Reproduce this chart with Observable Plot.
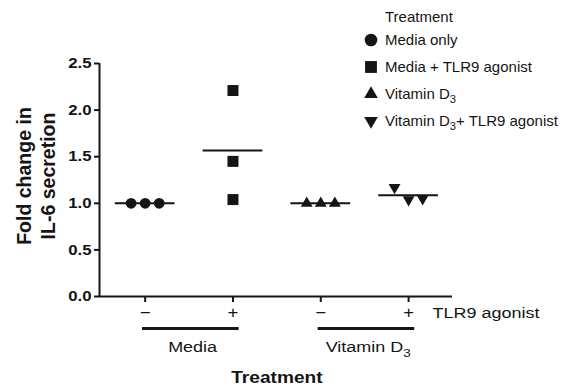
<!DOCTYPE html>
<html><head><meta charset="utf-8">
<script src="https://cdn.jsdelivr.net/npm/d3@7"></script>
<script src="https://cdn.jsdelivr.net/npm/@observablehq/plot@0.6"></script>
<style>
body{margin:0;background:#fff}
#wrap{position:relative;width:564px;height:385px;background:#fff}
</style>
</head><body><div id="wrap"></div>
<script>
// ---- data ----
const seriesNames = ["Media only", "Media + TLR9 agonist", "Vitamin D_3", "Vitamin D_3+ TLR9 agonist"];
const seriesSymbols = ["circle", "square", "triangle", "triangle"];
const seriesRotate = [0, 0, 0, 180];
const tlr9Ticks = ["\u2212", "+", "\u2212", "+"];
const groupLabels = ["Media", "Vitamin D_3"];
const groupSpans = [[0, 1], [2, 3]];
const yTicks = [0, 0.5, 1.0, 1.5, 2.0, 2.5];
const mediaOnly = [1.0, 1.0, 1.0];
const mediaTLR9 = [2.21, 1.45, 1.04];
const vitD3 = [1.0, 1.0, 1.0];
const vitD3TLR9 = [1.17, 1.04, 1.05];
const seriesValues = [mediaOnly, mediaTLR9, vitD3, vitD3TLR9];

// ---- derived ----
const points = seriesValues.flatMap((vals, i) => {
  const n = vals.length;
  const crowded = vals.some((v, j) => vals.some((w, k) => k !== j && Math.abs(v - w) < 0.15));
  return vals.map((v, j) => ({series: i, x: i + (crowded ? (j - (n - 1) / 2) * 0.16 : 0), value: v}));
});
const means = seriesValues.map((v, i) => ({series: i, mean: d3.mean(v)}));
const symR = {circle: 5.4, square: 6.2, triangle: 4.4};
const xDomain = [-0.52, 3.5];
const font = "'Liberation Sans', Arial, Helvetica, sans-serif";
const ink = "#151515";

const chart = Plot.plot({
  width: 564, height: 385,
  marginLeft: 99, marginRight: 112, marginTop: 63, marginBottom: 89,
  x: {domain: xDomain, axis: null},
  y: {domain: [0, 2.5], axis: null},
  style: {fontFamily: font, color: ink, background: "white", overflow: "visible"},
  marks: [
    Plot.ruleX([xDomain[0]], {y1: 0, y2: 2.5, strokeWidth: 2, stroke: ink}),
    Plot.ruleY([0], {x1: xDomain[0], x2: xDomain[1], strokeWidth: 2, stroke: ink}),
    Plot.axisY(yTicks, {label: null, tickSize: 5, strokeWidth: 2, stroke: ink, tickFormat: d3.format(".1f"), fontWeight: "bold", fontSize: 14.5, tickPadding: 3}),
    Plot.axisX([0, 1, 2, 3], {label: null, tickSize: 6, strokeWidth: 2, stroke: ink, tickFormat: i => tlr9Ticks[i], fontSize: 16, tickPadding: 4}),
    Plot.text(["TLR9 agonist"], {x: () => 3, y: () => 0, dx: 24, dy: 17, textAnchor: "start", fontSize: 15.5, fill: ink}),
    Plot.ruleY(groupSpans, {y: () => 0, x1: d => d[0] - 0.03, x2: d => d[1] + 0.07, dy: 32, strokeWidth: 3, stroke: ink}),
    Plot.text(groupSpans, {x: d => (d[0] + d[1]) / 2 + 0.04, y: () => 0, dy: 51, text: (d, i) => groupLabels[i], fontSize: 15.5, fill: ink}),
    Plot.text(["Treatment"], {x: () => 1.5, y: () => 0, dy: 81, fontWeight: "bold", fontSize: 16.5, fill: ink}),
    Plot.text(["Fold change in\nIL-6 secretion"], {frameAnchor: "left", textAnchor: "middle", dx: -64, dy: -4, rotate: -90, fontSize: 19.5, fontWeight: "bold", lineHeight: 1.2, fill: ink}),
    Plot.ruleY(means, {y: "mean", x1: d => d.series - 0.34, x2: d => d.series + 0.34, strokeWidth: 2, stroke: ink}),
    ...seriesValues.map((_, i) => Plot.dot(points.filter(p => p.series === i), {
      x: "x", y: "value", symbol: seriesSymbols[i], r: symR[seriesSymbols[i]],
      fill: ink, stroke: "none", rotate: seriesRotate[i]
    }))
  ]
});

function subscriptify(t) {
  const s = t.textContent;
  if (!s.includes("_3")) return;
  const [before, after] = s.split("_3");
  t.textContent = before;
  const sub = document.createElementNS("http://www.w3.org/2000/svg", "tspan");
  sub.setAttribute("dy", "0.35em");
  sub.setAttribute("font-size", "0.75em");
  sub.textContent = "3";
  t.appendChild(sub);
  if (after) {
    const rest = document.createElementNS("http://www.w3.org/2000/svg", "tspan");
    rest.setAttribute("dy", "-0.26em");
    rest.textContent = after;
    t.appendChild(rest);
  }
}

const isEm = v => v != null && /em$/.test(v);
chart.querySelectorAll("text").forEach(t => {
  subscriptify(t);
  const tr = t.getAttribute("transform") || "";
  if (tr.includes("rotate")) return;
  let base = tr;
  let px = 0, py = 0;
  const x = t.getAttribute("x"), y = t.getAttribute("y");
  if (x != null) {
    if (isEm(x)) { if (!t.getAttribute("dx")) t.setAttribute("dx", x); }
    else px = parseFloat(x) || 0;
    t.removeAttribute("x");
  }
  if (y != null) {
    if (isEm(y)) { if (!t.getAttribute("dy")) t.setAttribute("dy", y); }
    else py = parseFloat(y) || 0;
    t.removeAttribute("y");
  }
  if (px || py) base += ` translate(${px},${py})`;
  t.setAttribute("transform", base + " scale(1.16,1)");
});

const wrap = document.getElementById("wrap");
wrap.appendChild(chart);

// ---- legend ----
const leg = d3.select(wrap).append("svg")
  .attr("width", 564).attr("height", 385)
  .style("position", "absolute").style("left", "0px").style("top", "0px")
  .style("font-family", font).style("font-size", "15px").style("pointer-events", "none");
leg.append("text").attr("x", 385).attr("y", 17).attr("dy", "0.35em").attr("fill", ink).text("Treatment");
const d3Sym = {circle: d3.symbolCircle, square: d3.symbolSquare, triangle: d3.symbolTriangle};
const legSize = {circle: 125, square: 140, triangle: 80};
seriesNames.forEach((name, i) => {
  const y = 40 + i * 27;
  leg.append("path")
    .attr("d", d3.symbol(d3Sym[seriesSymbols[i]], legSize[seriesSymbols[i]])())
    .attr("transform", `translate(371,${y}) rotate(${seriesRotate[i]})`)
    .attr("fill", ink);
  const t = leg.append("text").attr("x", 385).attr("y", y).attr("dy", "0.35em").attr("fill", ink).text(name);
  subscriptify(t.node());
});
</script>
</body></html>
